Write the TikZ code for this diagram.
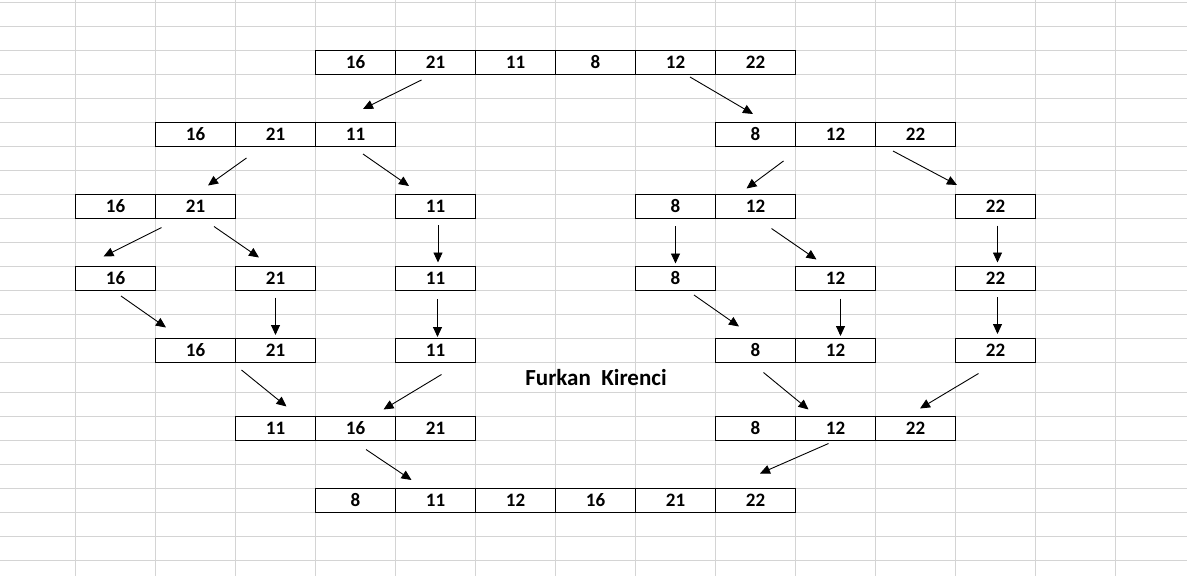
\documentclass[tikz,border=0pt]{standalone}
\usepackage{fontspec}
\setmainfont{Carlito}
\usepackage{tikz}
\usetikzlibrary{arrows.meta}
\usetikzlibrary{positioning}
\definecolor{gridgray}{RGB}{212,212,212}
\tikzstyle{cell} = [rectangle, draw=black, line width=1.2pt, minimum width=80pt, minimum height=24pt, inner sep=0pt, outer sep=0pt, font=\fontsize{19}{22}\selectfont\bfseries]
\tikzstyle{arrow} = [line width=0.9pt, -{Triangle[length=10pt,width=9pt]}]
\tikzstyle{gridline} = [gridgray, line width=1pt]

\begin{document}
\begin{tikzpicture}[x=1pt, y=-1pt, node distance=0pt]
% sheet and grid
\fill[white] (0,0) rectangle (1187,576);
\useasboundingbox (0,0) rectangle (1187,576);
\foreach \gx in {75.5,155.5,...,1195.5}
  \draw[gridline] (\gx,0) -- (\gx,576);
\foreach \gy in {2.5,26.5,...,362.5}
  \draw[gridline] (0,\gy) -- (1187,\gy);
\foreach \gy in {392.5,416.5,...,584.5}
  \draw[gridline] (0,\gy) -- (1187,\gy);

% row A
\node (A3) [cell] at (355.5,62.5) {16};
\node (A4) [cell, right=of A3] {21};
\node (A5) [cell, right=of A4] {11};
\node (A6) [cell, right=of A5] {8};
\node (A7) [cell, right=of A6] {12};
\node (A8) [cell, right=of A7] {22};

% row B
\node (B1) [cell] at (195.5,134.5) {16};
\node (B2) [cell, right=of B1] {21};
\node (B3) [cell, right=of B2] {11};
\node (B8) [cell] at (755.5,134.5) {8};
\node (B9) [cell, right=of B8] {12};
\node (B10) [cell, right=of B9] {22};

% row C
\node (C0) [cell] at (115.5,206.5) {16};
\node (C1) [cell, right=of C0] {21};
\node (C4) [cell] at (435.5,206.5) {11};
\node (C7) [cell] at (675.5,206.5) {8};
\node (C8) [cell, right=of C7] {12};
\node (C11) [cell] at (995.5,206.5) {22};

% row D
\node (D0) [cell] at (115.5,278.5) {16};
\node (D2) [cell] at (275.5,278.5) {21};
\node (D4) [cell] at (435.5,278.5) {11};
\node (D7) [cell] at (675.5,278.5) {8};
\node (D9) [cell] at (835.5,278.5) {12};
\node (D11) [cell] at (995.5,278.5) {22};

% row E
\node (E1) [cell] at (195.5,350.5) {16};
\node (E2) [cell, right=of E1] {21};
\node (E4) [cell] at (435.5,350.5) {11};
\node (E8) [cell] at (755.5,350.5) {8};
\node (E9) [cell, right=of E8] {12};
\node (E11) [cell] at (995.5,350.5) {22};

\node (name) at (596,378) {\fontsize{23}{26}\selectfont\bfseries Furkan~~Kirenci};

% row F
\node (F2) [cell] at (275.5,428.5) {11};
\node (F3) [cell, right=of F2] {16};
\node (F4) [cell, right=of F3] {21};
\node (F8) [cell] at (755.5,428.5) {8};
\node (F9) [cell, right=of F8] {12};
\node (F10) [cell, right=of F9] {22};

% row G
\node (G3) [cell] at (355.5,500.5) {8};
\node (G4) [cell, right=of G3] {11};
\node (G5) [cell, right=of G4] {12};
\node (G6) [cell, right=of G5] {16};
\node (G7) [cell, right=of G6] {21};
\node (G8) [cell, right=of G7] {22};

% split
\draw [arrow] ([xshift=-14pt,yshift=-5.5pt]A4.south) -- ([xshift=7.5pt,yshift=13.5pt]B3.north);
\draw [arrow] ([xshift=14.5pt,yshift=-2.5pt]A7.south) -- ([xshift=-2.5pt,yshift=8.5pt]B8.north);
\draw [arrow] ([xshift=-29pt,yshift=-11.5pt]B2.south) -- ([xshift=12.5pt,yshift=9pt]C1.north);
\draw [arrow] ([xshift=7.5pt,yshift=-7.5pt]B3.south) -- ([xshift=-26.5pt,yshift=8.5pt]C4.north);
\draw [arrow] ([xshift=28pt,yshift=-14.5pt]B8.south) -- ([xshift=-9pt,yshift=6pt]C8.north);
\draw [arrow] ([xshift=-22.5pt,yshift=-4.5pt]B10.south) -- ([xshift=-38.5pt,yshift=9.5pt]C11.north);
\draw [arrow] ([xshift=-34pt,yshift=-9pt]C1.south) -- ([xshift=-12pt,yshift=10pt]D0.north);
\draw [arrow] ([xshift=18.5pt,yshift=-8pt]C1.south) -- ([xshift=-16.5pt,yshift=9pt]D2.north);
\draw [arrow] ([xshift=2.5pt,yshift=-6.5pt]C4.south) -- ([xshift=2.5pt,yshift=4pt]D4.north);
\draw [arrow] ([yshift=-7.5pt]C7.south) -- ([yshift=3pt]D7.north);
\draw [arrow] ([xshift=16pt,yshift=-10pt]C8.south) -- ([xshift=-19pt,yshift=7pt]D9.north);
\draw [arrow] ([xshift=2pt,yshift=-7pt]C11.south) -- ([xshift=2pt,yshift=4pt]D11.north);

% merge
\draw [arrow] ([xshift=5.5pt,yshift=-5.5pt]D0.south) -- ([xshift=-29.5pt,yshift=11pt]E1.north);
\draw [arrow] ([yshift=-7pt]D2.south) -- ([yshift=3.5pt]E2.north);
\draw [arrow] ([xshift=2pt,yshift=-8.5pt]D4.south) -- ([xshift=2pt,yshift=1.5pt]E4.north);
\draw [arrow] ([xshift=18.5pt,yshift=-4.5pt]D7.south) -- ([xshift=-16.5pt,yshift=12pt]E8.north);
\draw [arrow] ([xshift=5pt,yshift=-8pt]D9.south) -- ([xshift=5pt,yshift=2.5pt]E9.north);
\draw [arrow] ([xshift=2pt,yshift=-6.5pt]D11.south) -- ([xshift=2pt,yshift=4.5pt]E11.north);
\draw [arrow] ([xshift=-34pt,yshift=-7.5pt]E2.south) -- ([xshift=11pt,yshift=10pt]F2.north);
\draw [arrow] ([xshift=6pt,yshift=-12pt]E4.south) -- ([xshift=28pt,yshift=7pt]F3.north);
\draw [arrow] ([xshift=8pt,yshift=-10pt]E8.south) -- ([xshift=-27pt,yshift=7pt]F9.north);
\draw [arrow] ([xshift=-17pt,yshift=-11pt]E11.south) -- ([xshift=4.5pt,yshift=8pt]F10.north);
\draw [arrow] ([xshift=10.5pt,yshift=-9pt]F3.south) -- ([xshift=-24pt,yshift=8.5pt]G4.north);
\draw [arrow] ([xshift=-7pt,yshift=-3pt]F9.south) -- ([xshift=4.5pt,yshift=15pt]G8.north);
\end{tikzpicture}
\end{document}
